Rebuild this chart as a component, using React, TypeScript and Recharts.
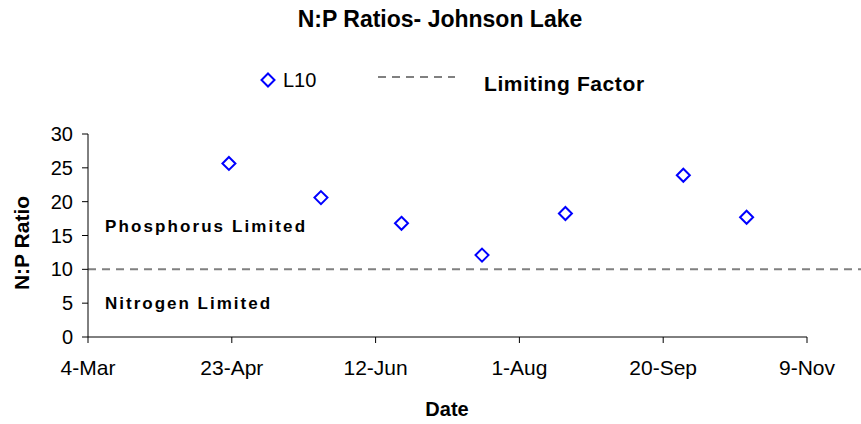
import React from "react";
import {
  ScatterChart, Scatter, XAxis, YAxis, ReferenceLine,
} from "recharts";

// sample dates (L10 station) and N:P ratios
const sampleDates = ["2006-04-22", "2006-05-24", "2006-06-21", "2006-07-19", "2006-08-17", "2006-09-27", "2006-10-19"];
const npRatios = [25.65, 20.6, 16.8, 12.1, 18.25, 23.9, 17.7];
const limitingFactor = 10;

const startDate = "2006-03-04";
const xTickDays = [0, 50, 100, 150, 200, 250];
const xTickLabels = ["4-Mar", "23-Apr", "12-Jun", "1-Aug", "20-Sep", "9-Nov"];
const yTicks = [0, 5, 10, 15, 20, 25, 30];

const dayMs = 24 * 3600 * 1000;
const daysFromStart = (d: string) => Math.round((Date.parse(d) - Date.parse(startDate)) / dayMs);

const data = sampleDates.map((d, i) => ({ day: daysFromStart(d), ratio: npRatios[i] }));

const font = '"Liberation Sans", Arial, sans-serif';
const BLUE = "#0000ff";

function Diamond({ cx, cy }: any) {
  if (cx == null || cy == null) return null;
  const r = 6.5;
  return (
    <path
      d={`M${cx},${cy - r} L${cx + r},${cy} L${cx},${cy + r} L${cx - r},${cy} Z`}
      fill="#fff"
      stroke={BLUE}
      strokeWidth={2}
    />
  );
}

function LimitLine(p: any) {
  return (
    <line x1={p.x1} y1={p.y1} x2={861} y2={p.y2} stroke="#808080" strokeWidth={2} strokeDasharray="8 6" />
  );
}

export default function App() {
  return (
    <div style={{ position: "absolute", left: 0, top: 0, width: 861, height: 424, background: "#fff", fontFamily: font }}>
      <ScatterChart width={861} height={424} margin={{ top: 134, right: 54, bottom: 0, left: 0 }}>
        <XAxis
          type="number"
          dataKey="day"
          domain={[0, 250]}
          ticks={xTickDays}
          tickFormatter={(v: number) => xTickLabels[xTickDays.indexOf(v)] ?? ""}
          height={87}
          stroke="#000"
          tickSize={6}
          tickMargin={17}
          tick={{ fill: "#000", fontSize: 21, fontFamily: font }}
          interval={0}
        />
        <YAxis
          type="number"
          dataKey="ratio"
          domain={[0, 30]}
          ticks={yTicks}
          width={88}
          stroke="#000"
          tickSize={6}
          tickMargin={9}
          tick={{ fill: "#000", fontSize: 20, fontFamily: font }}
          interval={0}
        />
        <ReferenceLine y={limitingFactor} shape={<LimitLine />} />
        <Scatter data={data} shape={<Diamond />} isAnimationActive={false} />
      </ScatterChart>

      <svg width={861} height={424} style={{ position: "absolute", left: 0, top: 0, pointerEvents: "none" }}>
        <text x={440} y={27} textAnchor="middle" fontSize={23} fontWeight="bold" fontFamily={font}>
          N:P Ratios- Johnson Lake
        </text>

        <Diamond cx={268} cy={80} />
        <text x={283} y={87} fontSize={20} fontFamily={font}>L10</text>
        <line x1={378} y1={77} x2={455} y2={77} stroke="#808080" strokeWidth={2} strokeDasharray="8 6" />
        <text x={484} y={91} fontSize={21} fontWeight="bold" fontFamily={font} letterSpacing={0.6}>
          Limiting Factor
        </text>

        <text x={105} y={232} fontSize={17} fontWeight="bold" fontFamily={font} letterSpacing={2.1}>
          Phosphorus Limited
        </text>
        <text x={105} y={309} fontSize={17} fontWeight="bold" fontFamily={font} letterSpacing={2}>
          Nitrogen Limited
        </text>

        <text
          transform="translate(29,243) rotate(-90)"
          textAnchor="middle"
          fontSize={21}
          fontWeight="bold"
          fontFamily={font}
        >
          N:P Ratio
        </text>
        <text x={447} y={416} textAnchor="middle" fontSize={20} fontWeight="bold" fontFamily={font}>
          Date
        </text>
      </svg>
    </div>
  );
}
